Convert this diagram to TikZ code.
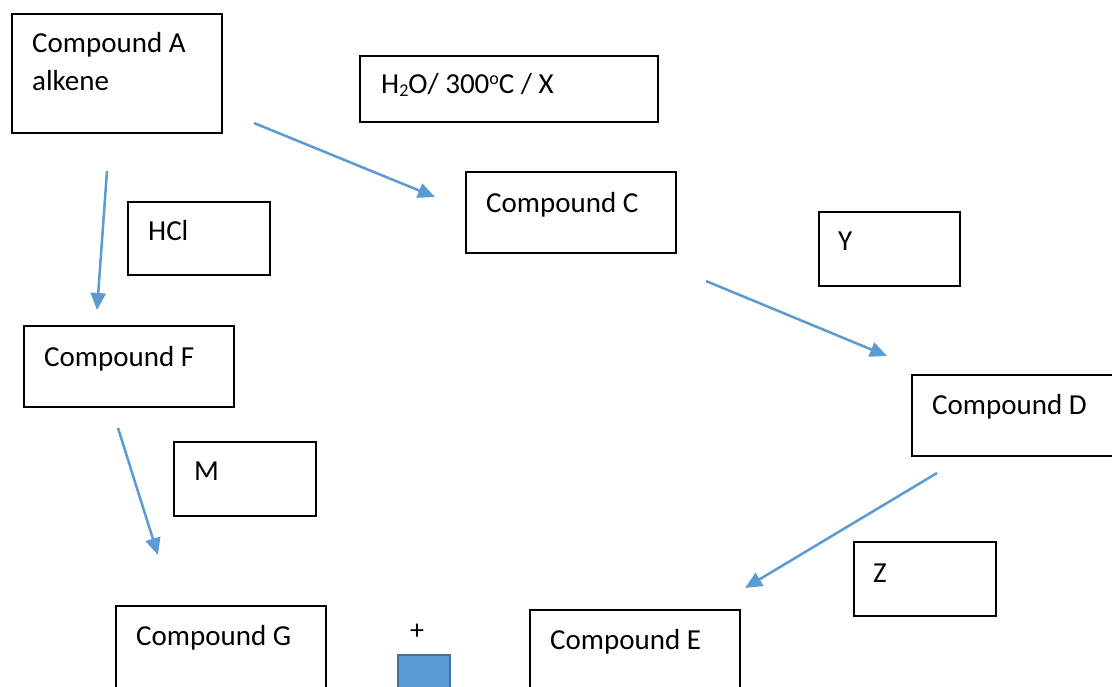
\documentclass[tikz,border=0pt]{standalone}
\usepackage{fontspec}
\setmainfont{Carlito}
\usetikzlibrary{arrows.meta,calc}
\definecolor{arrowblue}{HTML}{5B9BD5}
\definecolor{sqedge}{HTML}{41719C}
\newcommand{\mysub}[1]{\raisebox{-3pt}{\fontsize{18}{18}\selectfont #1}}
\newcommand{\mysup}[1]{\raisebox{9pt}{\fontsize{18}{18}\selectfont #1}}
\tikzset{
  box/.style={draw=black, line width=1.7pt, fill=white, inner sep=0pt, anchor=north west},
  lbl/.style={anchor=base west, inner sep=0pt, font=\fontsize{29}{35}\selectfont},
  flow/.style={draw=arrowblue, line width=2.5pt, -{Triangle[length=17pt,width=15pt]}},
}
\begin{document}
\begin{tikzpicture}[x=1pt,y=-1pt]
\useasboundingbox (0,0) rectangle (1112,686);
\clip (0,0) rectangle (1112,686);
% boxes
\node[box, minimum width=210pt, minimum height=119pt] (A) at (11,13) {};
\node[box, minimum width=298pt, minimum height=66pt] (X) at (359,55) {};
\node[box, minimum width=210pt, minimum height=81pt] (C) at (465,171) {};
\node[box, minimum width=142pt, minimum height=73pt] (H) at (127,201) {};
\node[box, minimum width=141pt, minimum height=74pt] (Y) at (818,211) {};
\node[box, minimum width=210pt, minimum height=81pt] (F) at (23,325) {};
\node[box, minimum width=230pt, minimum height=81pt] (D) at (911,374) {};
\node[box, minimum width=142pt, minimum height=74pt] (M) at (173,441) {};
\node[box, minimum width=142pt, minimum height=74pt] (Z) at (853,541) {};
\node[box, minimum width=210pt, minimum height=120pt] (G) at (115,605) {};
\node[box, minimum width=210pt, minimum height=120pt] (E) at (529,609) {};
% labels
\node[lbl] (tA1) at (32,52) {Compound A};
\node[lbl] (tA2) at (32,90) {alkene};
\node[lbl] (tX) at (381,93) {H\mysub{2}O/ 300\mysup{o}C / X};
\node[lbl] (tC) at (486,212) {Compound C};
\node[lbl] (tH) at (148,240) {HCl};
\node[lbl] (tY) at (838,250) {Y};
\node[lbl] (tF) at (44,366) {Compound F};
\node[lbl] (tD) at (932,414) {Compound D};
\node[lbl] (tM) at (194,480) {M};
\node[lbl] (tZ) at (873,582) {Z};
\node[lbl] (tG) at (136,645) {Compound G};
\node[lbl] (tE) at (550,649) {Compound E};
% plus and square
\node[font=\fontsize{28}{30}\selectfont, inner sep=0pt] (plus) at (417,632) {+};
\node[draw=sqedge, line width=1.6pt, fill=arrowblue, minimum width=52pt, minimum height=60pt, inner sep=0pt, anchor=north west] (sq) at (397,654) {};
% arrow ends
\coordinate (a1) at (254,123); \coordinate (a2) at (435,197);
\coordinate (b1) at (107,171); \coordinate (b2) at (97,310);
\coordinate (c1) at (706,281); \coordinate (c2) at (887,356);
\coordinate (f1) at (118,428); \coordinate (f2) at (158,555);
\coordinate (d1) at (937,473); \coordinate (d2) at (745,588);
\draw[flow] (a1) -- (a2);
\draw[flow] (b1) -- (b2);
\draw[flow] (c1) -- (c2);
\draw[flow] (f1) -- (f2);
\draw[flow] (d1) -- (d2);
\end{tikzpicture}
\end{document}
